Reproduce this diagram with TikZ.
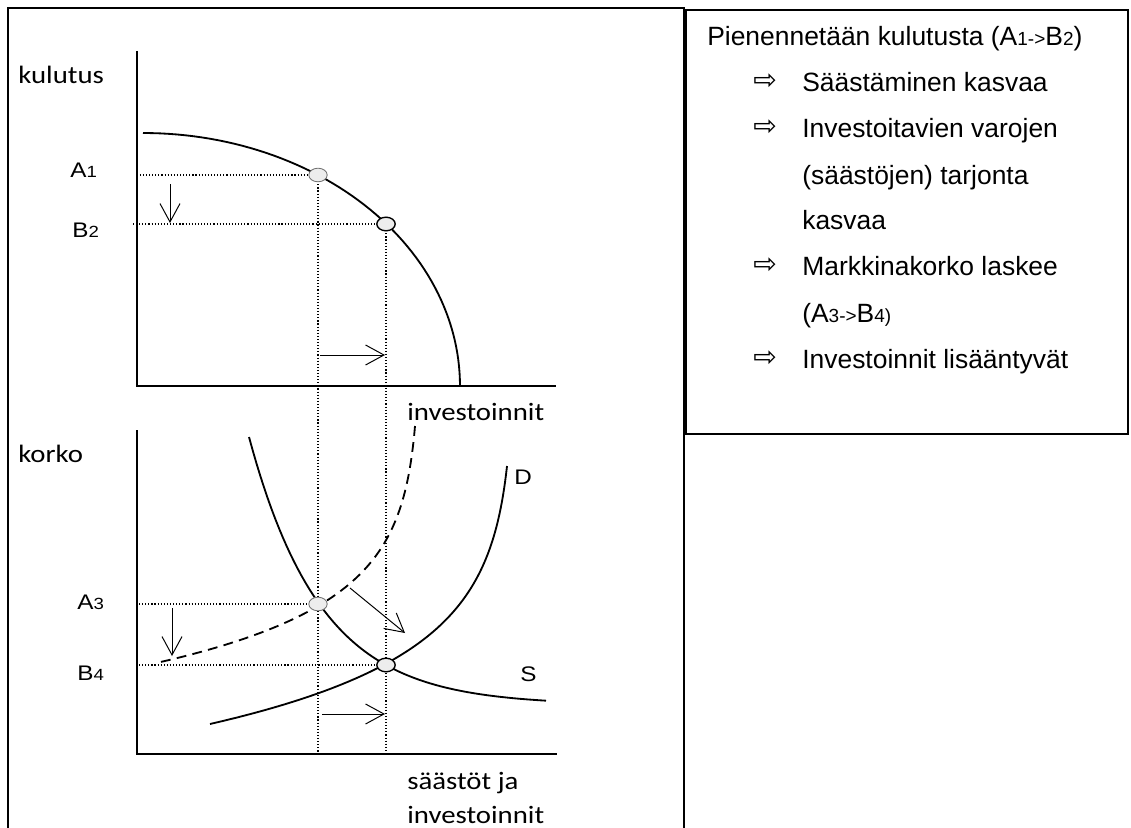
\documentclass[tikz,border=0pt]{standalone}
\usepackage{fontspec}
\setmainfont{Liberation Sans}
\newfontfamily\calfont{Carlito}
\newfontfamily\arrfont{DejaVu Sans}
\usetikzlibrary{arrows.meta,shapes.geometric}
\newcommand{\sml}[1]{{\fontsize{11.5}{11.5}\selectfont #1}}
\newcommand{\smr}[1]{{\fontsize{13.5}{13.5}\selectfont #1}}
\tikzset{
  panel/.style={draw=black,line width=1.4pt},
  notebox/.style={draw=black,line width=1pt},
  axis/.style={line width=1.8pt},
  curve/.style={line width=1.3pt},
  shifted/.style={curve,dash pattern=on 7pt off 4.5pt},
  guide/.style={line width=0.8pt,dash pattern=on 0.8pt off 1.4pt},
  shiftarr/.style={-{Straight Barb[length=4.6mm,width=5mm]},line width=0.7pt},
  oldpt/.style={ellipse,draw=black!55,line width=0.6pt,fill=black!7,
                minimum width=4.6mm,minimum height=3.4mm,inner sep=0pt},
  newpt/.style={ellipse,draw=black,line width=1pt,fill=black!7,
                minimum width=4.6mm,minimum height=3.4mm,inner sep=0pt},
  axlabel/.style={font=\calfont\fontsize{17.8}{20}\selectfont,xscale=1.15,
                  anchor=base west,inner sep=0pt},
  ptlabel/.style={font=\fontsize{15}{15}\selectfont,xscale=1.15,
                  anchor=base west,inner sep=0pt},
  notetext/.style={font=\fontsize{18.8}{22}\selectfont,anchor=base west,
                   inner sep=0pt},
  bullet/.style={font=\arrfont\fontsize{20}{20}\selectfont,anchor=base west,
                 inner sep=0pt}
}
\begin{document}
\begin{tikzpicture}[x=0.025cm,y=-0.025cm]
  \useasboundingbox (0,0) rectangle (1131,828);
  \clip (0,0) rectangle (1131,828);
  \draw[panel] (8,840) |- (684,8) -- (684,840);
  \draw[notebox] (686,10) rectangle (1128,434);

  \coordinate (O1) at (137,386);
  \coordinate (O2) at (137,754);
  \coordinate (A1) at (318,175);
  \coordinate (B2) at (386,224);
  \coordinate (A3) at (318,604);
  \coordinate (B4) at (386,665);

  \draw[axis] (137,51) |- (556,386);
  \draw[axis] (137,430) |- (557,754);

  \draw[curve] plot[domain=0:90,samples=60] ({143+317*sin(\x)},{386-253*cos(\x)});
  \draw[curve] plot[domain=249:546,samples=80] (\x,{437+268*(1-exp(-(\x-249)/72))});
  \draw[curve] plot[domain=466:724,samples=80] ({507-7.64*(exp((\x-466)/70)-1)},\x);
  \draw[shifted] plot[domain=426:663,samples=80] ({415-5.08*(exp((\x-426)/60)-1)},\x);

  \draw[guide] ([xshift=0.07cm]A1 -| O1) -- (A1);
  \draw[guide] ([xshift=-0.1cm]B2 -| O1) -- (B2);
  \draw[guide] ([xshift=0.05cm]A3 -| O2) -- (A3);
  \draw[guide] ([xshift=0.05cm]B4 -| O2) -- (B4);
  \draw[guide] (A1) -- (A1 |- O2);
  \draw[guide] (B2) -- (B2 |- O2);

  \coordinate (d1s) at (170,184); \coordinate (d1e) at (170,223);
  \coordinate (r1s) at (320,355); \coordinate (r1e) at (385,355);
  \coordinate (d2s) at (172,608); \coordinate (d2e) at (172,656);
  \coordinate (r2s) at (322,714); \coordinate (r2e) at (385,714);
  \coordinate (qs) at (350,588);  \coordinate (qe) at (405,633);
  \draw[shiftarr] (d1s) -- (d1e);
  \draw[shiftarr] (r1s) -- (r1e);
  \draw[shiftarr] (d2s) -- (d2e);
  \draw[shiftarr] (r2s) -- (r2e);
  \draw[shiftarr] (qs) -- (qe);

  \node[oldpt] (pA1) at (A1) {};
  \node[newpt] (pB2) at (B2) {};
  \node[oldpt] (pA3) at (A3) {};
  \node[newpt] (pB4) at (B4) {};

  \node[axlabel] (kul) at (18,84) {kulutus};
  \node[axlabel] (kor) at (18,462) {korko};
  \node[axlabel] (inv1) at (407,420) {investoinnit};
  \node[axlabel] (sav) at (407,789) {säästöt ja};
  \node[axlabel] (inv2) at (407,823) {investoinnit};
  \node[ptlabel] (lA1) at (70,177) {A\sml{1}};
  \node[ptlabel] (lB2) at (72,237) {B\sml{2}};
  \node[ptlabel] (lA3) at (77,609) {A\sml{3}};
  \node[ptlabel] (lB4) at (77,680) {B\sml{4}};
  \node[ptlabel] (lD) at (514,484) {D};
  \node[ptlabel] (lS) at (520,681) {S};

  \node[notetext] (head) at (707,46) {Pienennetään kulutusta (A\smr{1->}B\smr{2})};
  \foreach \yy in {90,136,273,366}
    \node[bullet] at (753,\yy) {⇨};
  \node[notetext] (t1) at (802,92) {Säästäminen kasvaa};
  \node[notetext] (t2) at (802,138) {Investoitavien varojen};
  \node[notetext] (t3) at (802,184) {(säästöjen) tarjonta};
  \node[notetext] (t4) at (802,229) {kasvaa};
  \node[notetext] (t5) at (802,275) {Markkinakorko laskee};
  \node[notetext] (t6) at (802,322) {(A\smr{3->}B\smr{4)}};
  \node[notetext] (t7) at (802,368) {Investoinnit lisääntyvät};
\end{tikzpicture}
\end{document}
